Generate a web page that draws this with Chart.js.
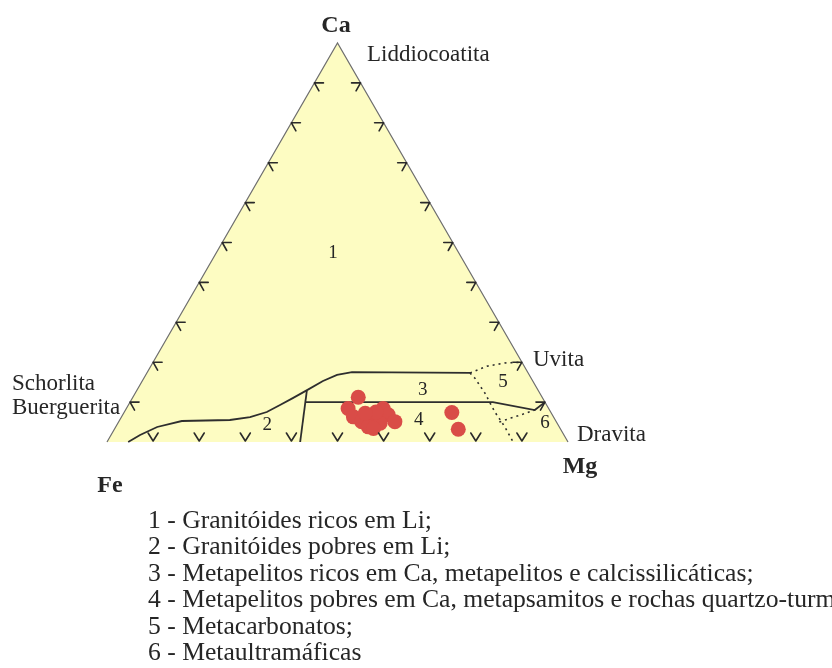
<!DOCTYPE html>
<html lang="pt">
<head>
<meta charset="utf-8">
<title>Diagrama Ca-Fe-Mg de turmalinas</title>
<script src="https://cdn.jsdelivr.net/npm/chart.js@4.4.1/dist/chart.umd.min.js"></script>
<style>
  html, body { margin: 0; padding: 0; background: #ffffff; }
  #wrap { position: relative; width: 832px; height: 668px; overflow: hidden; }
  canvas { display: block; }
</style>
</head>
<body>
<div id="wrap"><canvas id="c" width="832" height="668"></canvas></div>
<script>
// Ternary compositions in percent, given as Ca and Mg (Fe = 100 - Ca - Mg).

// Analysed tourmalines
const sampleCa = [11.2, 8.4, 6.3, 5.1, 6.3, 3.8, 8.4, 6.8, 5.1, 4.7, 3.4, 7.5, 7.2, 7.4, 3.2];
const sampleMg = [48.9, 48.1, 50.3, 52.7, 53.9, 54.8, 55.7, 57.6, 59.9, 56.9, 56.1, 54.6, 52.4, 71.1, 74.6];

// Field boundaries (solid)
const boundaryA_Ca = [0, 1.75, 3.76, 5.26, 5.51, 6.26, 7.52, 9.27, 11.0, 13.0, 15.3, 16.8, 17.5, 17.3];
const boundaryA_Mg = [4.6, 6.3, 9.0, 13.6, 23.9, 27.9, 30.9, 32.9, 34.8, 36.9, 39.2, 41.5, 44.4, 70.1];
const boundaryB_Ca = [12.9, 0];
const boundaryB_Mg = [36.9, 41.9];
const boundaryC_Ca = [10.0, 10.0, 8.0, 10.0];
const boundaryC_Mg = [38.1, 78.7, 88.8, 90.0];

// Field boundaries (dotted)
const boundaryD_Ca = [17.3, 19.0, 19.8, 20.0];
const boundaryD_Mg = [70.1, 72.9, 76.4, 80.0];
const boundaryE_Ca = [17.3, 16.0, 12.3, 7.5, 3.8, 0];
const boundaryE_Mg = [70.1, 71.8, 75.8, 80.4, 84.4, 88.1];
const boundaryF_Ca = [5.0, 6.0, 7.0, 8.0];
const boundaryF_Mg = [82.6, 84.6, 86.8, 88.8];

// Field numbers and their positions
const fieldNames = ['1', '2', '3', '4', '5', '6'];
const fieldCa = [47.3, 4.3, 13.0, 5.5, 15.0, 4.8];
const fieldMg = [25.4, 32.6, 62.0, 64.9, 78.4, 92.6];

// Graduation of each side
const gridTicks = [10, 20, 30, 40, 50, 60, 70, 80, 90];

const legendLines = [
  '1 - Granitóides ricos em Li;',
  '2 - Granitóides pobres em Li;',
  '3 - Metapelitos ricos em Ca, metapelitos e calcissilicáticas;',
  '4 - Metapelitos pobres em Ca, metapsamitos e rochas quartzo-turmalínicas;',
  '5 - Metacarbonatos;',
  '6 - Metaultramáficas'
];

const H = Math.sqrt(3) / 2;
function toXY(ca, mg) {
  return { x: (mg + ca / 2) / 100, y: ca * H / 100 };
}
function pts(caArr, mgArr) {
  return caArr.map((ca, i) => toXY(ca, mgArr[i]));
}

const SERIF = '"Liberation Serif", "Times New Roman", serif';
const INK = '#262626';
const LINE = '#2e2e2e';

const solid = (data) => ({
  type: 'line', data, order: 1, showLine: true, fill: false, borderColor: LINE,
  borderWidth: 1.8, pointRadius: 0, tension: 0, clip: false
});
const dotted = (data) => ({
  type: 'line', data, order: 1, showLine: true, fill: false, borderColor: LINE,
  borderWidth: 1.6, borderDash: [2, 4], pointRadius: 0, tension: 0, clip: false
});

const ternaryDecor = {
  id: 'ternaryDecor',
  afterDatasetsDraw(chart) {
    const ctx = chart.ctx;
    const sx = chart.scales.x, sy = chart.scales.y;
    const px = (ca, mg) => {
      const p = toXY(ca, mg);
      return [sx.getPixelForValue(p.x), sy.getPixelForValue(p.y)];
    };
    ctx.save();
    ctx.strokeStyle = '#2a2a2a';
    ctx.lineWidth = 1.6;
    ctx.lineCap = 'round';
    ctx.lineJoin = 'round';
    gridTicks.forEach(t => {
      // Fe-Ca side
      let [x, y] = px(t, 0);
      ctx.beginPath();
      ctx.moveTo(x + 9, y); ctx.lineTo(x, y); ctx.lineTo(x + 4.5, y + 8);
      ctx.stroke();
      // Mg-Ca side
      [x, y] = px(t, 100 - t);
      ctx.beginPath();
      ctx.moveTo(x - 9, y); ctx.lineTo(x, y); ctx.lineTo(x - 4.5, y + 8);
      ctx.stroke();
      // Fe-Mg side
      [x, y] = px(0, t);
      ctx.beginPath();
      ctx.moveTo(x - 5, y - 9); ctx.lineTo(x, y - 1); ctx.lineTo(x + 5, y - 9);
      ctx.stroke();
    });
    // Field numbers
    ctx.fillStyle = INK;
    ctx.font = '19px ' + SERIF;
    ctx.textAlign = 'center';
    ctx.textBaseline = 'middle';
    fieldNames.forEach((n, i) => {
      const [x, y] = px(fieldCa[i], fieldMg[i]);
      ctx.fillText(n, x, y);
    });
    ctx.restore();
  },
  afterDraw(chart) {
    const ctx = chart.ctx;
    ctx.save();
    ctx.fillStyle = INK;
    ctx.textBaseline = 'alphabetic';

    // Apices
    ctx.font = 'bold 24px ' + SERIF;
    ctx.textAlign = 'center';
    ctx.fillText('Ca', 336, 32);
    ctx.fillText('Fe', 110, 492);
    ctx.fillText('Mg', 580, 473);

    // End members
    ctx.font = '23px ' + SERIF;
    ctx.textAlign = 'left';
    ctx.fillText('Liddiocoatita', 367, 61);
    ctx.fillText('Schorlita', 12, 390);
    ctx.fillText('Buerguerita', 12, 414);
    ctx.fillText('Uvita', 533, 366);
    ctx.fillText('Dravita', 577, 441);

    // Key to the fields
    ctx.font = '25px ' + SERIF;
    legendLines.forEach((line, i) => {
      ctx.save();
      ctx.translate(148, 528 + i * 26.4);
      ctx.scale(1.025, 1);
      ctx.fillText(line, 0, 0);
      ctx.restore();
    });
    ctx.restore();
  }
};

new Chart(document.getElementById('c'), {
  type: 'line',
  data: {
    datasets: [
      {
        type: 'line',
        order: 10,
        data: [toXY(0, 0), toXY(100, 0), toXY(0, 100)],
        showLine: true,
        fill: 'origin',
        backgroundColor: '#fdfcc2',
        borderColor: '#6e6e6e',
        borderWidth: 1.2,
        pointRadius: 0,
        tension: 0,
        clip: false
      },
      solid(pts(boundaryA_Ca, boundaryA_Mg)),
      solid(pts(boundaryB_Ca, boundaryB_Mg)),
      solid(pts(boundaryC_Ca, boundaryC_Mg)),
      dotted(pts(boundaryD_Ca, boundaryD_Mg)),
      dotted(pts(boundaryE_Ca, boundaryE_Mg)),
      dotted(pts(boundaryF_Ca, boundaryF_Mg)),
      {
        type: 'scatter',
        order: 0,
        data: pts(sampleCa, sampleMg),
        showLine: false,
        pointRadius: 7.5,
        pointBackgroundColor: '#d94c47',
        pointBorderWidth: 0,
        pointBorderColor: 'rgba(0,0,0,0)',
        clip: false
      }
    ]
  },
  options: {
    responsive: false,
    animation: false,
    devicePixelRatio: 1,
    layout: { padding: { left: 107, right: 264, top: 43, bottom: 226 } },
    scales: {
      x: { type: 'linear', min: 0, max: 1, display: false },
      y: { type: 'linear', min: 0, max: H, display: false }
    },
    plugins: {
      legend: { display: false },
      tooltip: { enabled: false },
      title: { display: false }
    },
    events: []
  },
  plugins: [ternaryDecor]
});
</script>
</body>
</html>
